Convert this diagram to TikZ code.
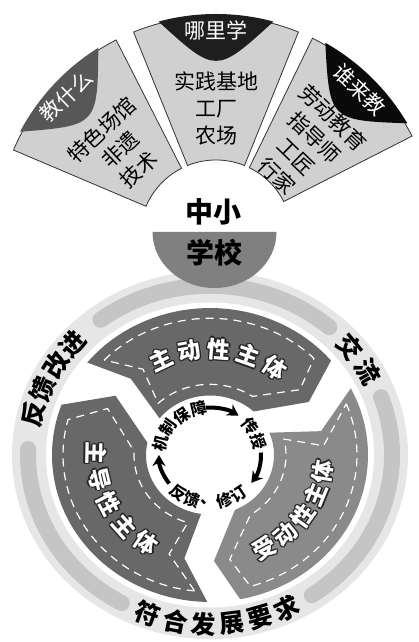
\documentclass[tikz,border=0pt]{standalone}
\usepackage{fontspec}
\setmainfont{Noto Sans CJK SC}
\usepackage{xcolor}
\usepackage{tikz}
\usetikzlibrary{arrows.meta,calc}

\definecolor{sectgray}{HTML}{D0D0D0}
\definecolor{capgray}{HTML}{575757}
\definecolor{capdark}{HTML}{1E1E1E}
\definecolor{capblack}{HTML}{0A0A0A}
\definecolor{ringlight}{HTML}{E6E6E6}
\definecolor{bandgray}{HTML}{C5C5C5}
\definecolor{roaddark}{HTML}{686868}
\definecolor{roadlight}{HTML}{8A8A8A}
\definecolor{schoolgray}{HTML}{808080}

\newcommand\bendtext[7]{%
  \foreach \ch [count=\i] in {#7} {%
    \pgfmathsetmacro\ang{#4+(#5)*(\i-1)}%
    \node[#1,rotate=\ang#6] (#2-\i) at (\ang:#3) {\ch};}}

\newcommand\roadtext[5]{%
  \foreach \ch [count=\i] in {#5} {%
    \pgfmathsetmacro\ang{#2+(#3)*(\i-1)}%
    \foreach \dx/\dy [count=\j] in {1.3/0,-1.3/0,0/1.3,0/-1.3,1/1,-1/1,1/-1,-1/-1}
      {\node[roadhalo,rotate=\ang#4] (#1-\i-\j) at ($(\ang:114)+(\dx,\dy)$) {\ch};}
    \node[roadtxt,rotate=\ang#4] (#1-\i) at (\ang:114) {\ch};}}

\begin{document}
\begin{tikzpicture}[x=1pt,y=1pt,
  sector/.style={fill=sectgray,draw=black!80,line width=.8pt},
  captxt/.style={text=white,font=\fontsize{21}{21}\selectfont,inner sep=0pt},
  secttxt/.style={align=center,font=\fontsize{21}{27}\selectfont,inner sep=0pt},
  schooltxt/.style={font=\bfseries\fontsize{28}{28}\selectfont,inner sep=0pt},
  ringtxt/.style={font=\bfseries\fontsize{25}{25}\selectfont,inner sep=0pt},
  roadtxt/.style={text=white,font=\bfseries\fontsize{23}{23}\selectfont,inner sep=0pt},
  roadhalo/.style={roadtxt,text=black!85},
  flowtxt/.style={font=\bfseries\fontsize{16}{16}\selectfont,inner sep=0pt},
  flowarrow/.style={line width=4pt,-{Stealth[length=11pt,width=13pt]}},
  band/.style={draw=bandgray,line width=16pt,line cap=round},
  lane/.style={draw=white,line width=1.2pt,dash pattern=on 8pt off 6pt}]

\useasboundingbox (0,0) rectangle (418,642);

\begin{scope}[shift={(216,406)}]
\foreach \sa/\sb/\sm/\capcol in {117/157/137/capgray,68/112/90/capdark,27/64/45.5/capblack}{
  \draw[sector] (\sa:76) -- (\sa:220) arc[start angle=\sa,end angle=\sb,radius=220] -- (\sb:76) arc[start angle=\sb,end angle=\sa,radius=76] -- cycle;
  \fill[\capcol] (\sm-15:222) arc[start angle=\sm-15,end angle=\sm+15,radius=222] .. controls (\sm:162) .. (\sm-15:222) -- cycle;
}
\node[captxt,rotate=44] (what) at (137:205) {教什么};
\node[captxt] (where) at (90:206) {哪里学};
\node[captxt,rotate=-44] (who) at (45.5:205) {谁来教};
\node[secttxt,rotate=43] (what-list) at (138:129) {特色场馆\\非遗\\技术};
\node[secttxt] (where-list) at (90:128) {实践基地\\工厂\\农场};
\node[secttxt,rotate=-44] (who-list) at (45:126) {劳动教育\\指导师\\工匠\\行家};
\end{scope}

\begin{scope}[shift={(210,187)},yscale=.93]
\fill[ringlight] (0,0) circle[radius=198];
\foreach \sa/\sb in {49/127,178/241,-56/20}
  \draw[band] (\sa:182) arc[start angle=\sa,end angle=\sb,radius=182];
\fill[white] (0,0) circle[radius=164];
\foreach \ta/\tb/\tc/\ha/\hb/\hc/\col in {269/257/262/160/146/168/roaddark,141/134/142/40/30/47/roaddark,27/13/22/-79/-88/-67/roadlight}{
  \fill[\col] (\ta:158) arc[start angle=\ta,end angle=\ha,radius=158] -- (\hb:114) -- (\hc:64) arc[start angle=\hc,end angle=\tc,radius=64] -- (\tb:114) -- cycle;
  \draw[lane] (\ta-5:147) arc[start angle=\ta-5,end angle=\ha+5,radius=147] -- (\hb+8:114) -- (\hc+9:76) arc[start angle=\hc+9,end angle=\tc-9,radius=76] -- (\tb-8:114) -- cycle;
}
\roadtext{active}{115.5}{-15}{-90}{主,动,性,主,体}
\roadtext{lead}{179}{14.25}{+90}{主,导,性,主,体}
\roadtext{passive}{-61.7}{13.2}{+90}{受,动,性,主,体}
\bendtext{ringtxt}{improve}{182}{166}{-9}{-90}{反,馈,改,进}
\bendtext{ringtxt}{talk}{182}{39.5}{-10}{-90}{交,流}
\bendtext{ringtxt}{meet}{182}{-110}{9}{+90}{符,合,发,展,要,求}
\bendtext{flowtxt}{guard}{51}{166}{-21}{-90}{机,制,保,障}
\bendtext{flowtxt}{teach}{51}{38}{-22}{-90}{传,授}
\bendtext{flowtxt}{revise}{51}{-128}{18}{+90}{反,馈,、,修,订}
\draw[flowarrow] (95:51) arc[start angle=95,end angle=56,radius=51];
\draw[flowarrow] (3:51) arc[start angle=3,end angle=-36,radius=51];
\draw[flowarrow] (-143:51) arc[start angle=-143,end angle=-180,radius=51];
\end{scope}

\fill[schoolgray] (152.5,410) arc[start angle=180,end angle=360,x radius=62,y radius=56] -- cycle;
\node[schooltxt] (small) at (213,430) {中小};
\node[schooltxt] (school) at (214,389) {学校};
\end{tikzpicture}
\end{document}
